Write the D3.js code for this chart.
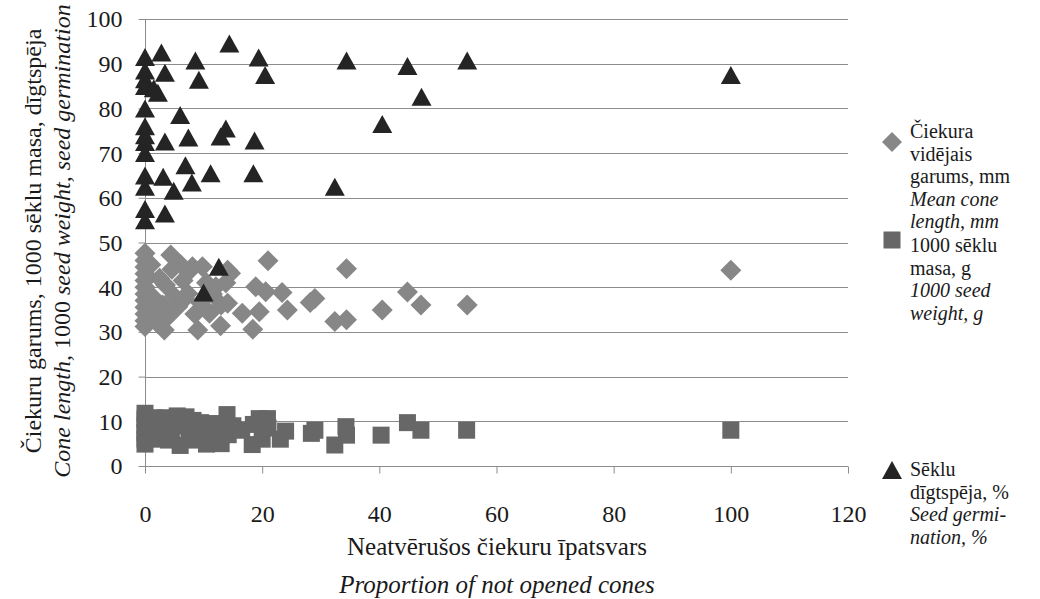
<!DOCTYPE html>
<html><head><meta charset="utf-8">
<script src="https://cdn.jsdelivr.net/npm/d3@7"></script>
<style>
body{margin:0;background:#fff;}
svg text{font-family:'Liberation Serif','DejaVu Serif',serif !important;fill:#1a1a1a;}
</style></head>
<body><svg id="c" width="1040" height="599"></svg>
<script>
// ---- data ----
const xTicks = [0,20,40,60,80,100,120];
const yTicks = [0,10,20,30,40,50,60,70,80,90,100];

// Mean cone length, mm (diamonds)
const coneX = [0,0,0,0,0,0,0,0,0,0,0,0,
  1,1.2,1.5,2.2,2.5,3,3.3,3.5,4.4,4.6,3.9,5,5.6,6.1,6.5,6.8,7.3,7.5,8.1,8.5,9,9.5,9.8,10.5,11,11.5,12.1,12.9,13,13.8,14.1,14.1,14.6,16.6,18.4,18.9,19.5,20.6,21,23.4,24.3,28.2,29,32.4,34.4,34.4,40.5,44.8,47.1,55,100];
const coneY = [47.6,46,44.5,43,41.5,40,38.5,37,35.5,34,32.5,31.2,
  45,38,33.5,31.9,42,36,30.4,40.5,47.2,44,33.4,38,35.6,45,41.5,37.5,38.6,43.5,44.6,34,30.4,36.5,44.6,41,34.2,38.5,40.1,31.4,36,41,43.8,36.4,43.1,34.2,30.6,40.1,34.5,39,45.9,38.8,34.9,36.6,37.5,32.3,32.7,44.1,34.9,38.9,36,36,43.8];

// 1000 seed weight, g (squares)
const seedX = [0,0,0,0,0,0,
  1.5,2,2.5,3.5,4,4.5,5.5,6,6.5,7,7.5,8.2,8.5,9.5,10,10.5,11.5,12,13,13.5,14,14.2,15,16.5,18.3,18.5,19.5,20.9,20,21,23.1,24,28.4,29,32.4,34.3,34.4,40.3,44.8,47.1,54.9,100];
const seedY = [11.8,10.5,9,7.5,6,4.9,
  10.8,6,8.5,10.8,5.8,8,11.2,4.6,9,11,6.5,10.2,5.8,9.7,7.5,4.9,9.5,6.5,5,8,11.5,7,9,8,4.8,9.3,10.6,10.6,6,8.5,6,7.8,7.3,8,4.7,8.8,6.9,6.9,9.7,8,8,8];

// Seed germination, % (triangles)
const germX = [0,0,0,0,0,0,0,0,0,0,0,0,0,
  1.5,2.2,2.8,3.1,3.4,3.4,3.4,4.9,6,6.9,7.4,8,8.6,9.2,10,11.2,12.6,12.9,13.8,14.4,18.5,18.7,19.4,20.5,32.4,34.4,40.5,44.8,47.2,55,100];
const germY = [91.5,88.5,86.5,85,80,76,74,72.5,70,65,62.5,57.5,55,
  84.5,83.5,92.5,64.7,88,72.6,56.5,61.6,78.5,67.3,73.5,63.4,90.7,86.4,38.8,65.5,44.6,73.7,75.5,94.5,65.5,72.8,91.4,87.5,62.5,90.7,76.5,89.5,82.6,90.7,87.5];

const legendCone = ["Čiekura","vidējais","garums, mm","Mean cone","length, mm"];
const legendSeed = ["1000 sēklu","masa, g","1000 seed","weight, g"];
const legendGerm = ["Sēklu","dīgtspēja, %","Seed germi-","nation, %"];

// ---- chart ----
const svg = d3.select("#c");
const x = d3.scaleLinear().domain([0,120]).range([145,848]);
const y = d3.scaleLinear().domain([0,100]).range([466,19]);

const grid = svg.append("g");
grid.selectAll("line").data(yTicks.filter(d=>d>0)).join("line")
  .attr("x1",145).attr("x2",848)
  .attr("y1",d=>Math.round(y(d))+0.5).attr("y2",d=>Math.round(y(d))+0.5)
  .attr("stroke","#8c8c8c").attr("stroke-width",1);

// axes
const xAxis = d3.axisBottom(x).tickValues(xTicks).tickSize(7).tickPadding(31).tickFormat(d3.format("d"));
const gx = svg.append("g").attr("transform","translate(0,466.5)").call(xAxis);
gx.select(".domain").attr("stroke","#8c8c8c").attr("d","M145,0H848");
gx.selectAll(".tick line").attr("stroke","#8c8c8c");
gx.selectAll(".tick text").attr("font-size","24px").attr("fill","#1a1a1a").attr("dy","0.71em");

const yAxis = d3.axisLeft(y).tickValues(yTicks).tickSize(7).tickPadding(16).tickFormat(d3.format("d"));
const gy = svg.append("g").attr("transform","translate(145.5,0)").call(yAxis);
gy.select(".domain").attr("stroke","#8c8c8c").attr("d","M0,19V473");
gy.selectAll(".tick line").attr("stroke","#8c8c8c");
gy.selectAll(".tick text").attr("font-size","24px").attr("fill","#1a1a1a").attr("dy","0.33em");

// markers
const diamond = s => `M0,${-s/2}L${s/2},0L0,${s/2}L${-s/2},0Z`;
const square = s => `M${-s/2},${-s/2}h${s}v${s}h${-s}Z`;
const tri = (w,h) => `M0,${-h/2}L${w/2},${h/2}L${-w/2},${h/2}Z`;

const coneData = coneX.map((v,i)=>({x:v,y:coneY[i]}));
const seedData = seedX.map((v,i)=>({x:v,y:seedY[i]}));
const germData = germX.map((v,i)=>({x:v,y:germY[i]}));

svg.append("g").selectAll("path").data(coneData).join("path")
  .attr("d",diamond(21)).attr("fill","#878787")
  .attr("transform",d=>`translate(${x(d.x)},${y(d.y)})`);
svg.append("g").selectAll("path").data(seedData).join("path")
  .attr("d",square(17)).attr("fill","#676767")
  .attr("transform",d=>`translate(${x(d.x)},${y(d.y)})`);
svg.append("g").selectAll("path").data(germData).join("path")
  .attr("d",tri(20,18)).attr("fill","#242424")
  .attr("transform",d=>`translate(${x(d.x)},${y(d.y)})`);

// axis titles
svg.append("text").attr("x",497).attr("y",555).attr("text-anchor","middle")
  .attr("font-size","25px").text("Neatvērušos čiekuru īpatsvars");
svg.append("text").attr("x",497).attr("y",593).attr("text-anchor","middle")
  .attr("font-size","25px").attr("font-style","italic").text("Proportion of not opened cones");

svg.append("text").attr("transform","translate(41,241) rotate(-90)").attr("text-anchor","middle")
  .attr("font-size","24px").text("Čiekuru garums, 1000 sēklu masa, dīgtspēja");
const yt2 = svg.append("text").attr("transform","translate(70,241) rotate(-90)").attr("text-anchor","middle")
  .attr("font-size","24px");
yt2.append("tspan").attr("font-style","italic").text("Cone length, ");
yt2.append("tspan").text("1000 ");
yt2.append("tspan").attr("font-style","italic").text("seed weight, seed germination");

// legend
const lg = svg.append("g");
lg.append("path").attr("d",diamond(20)).attr("fill","#878787").attr("transform","translate(892,142)");
lg.append("path").attr("d",square(17)).attr("fill","#676767").attr("transform","translate(892,240)");
lg.append("path").attr("d",tri(20,18)).attr("fill","#242424").attr("transform","translate(892,470)");

function legendText(lines, y0, italicFrom){
  lines.forEach((l,i)=>{
    lg.append("text").attr("x",910).attr("y",y0+i*22.5).attr("font-size","20px")
      .attr("font-style", i>=italicFrom ? "italic" : "normal").text(l);
  });
}
legendText(legendCone,138,3);
legendText(legendSeed,252,2);
legendText(legendGerm,476,2);
</script></body></html>
